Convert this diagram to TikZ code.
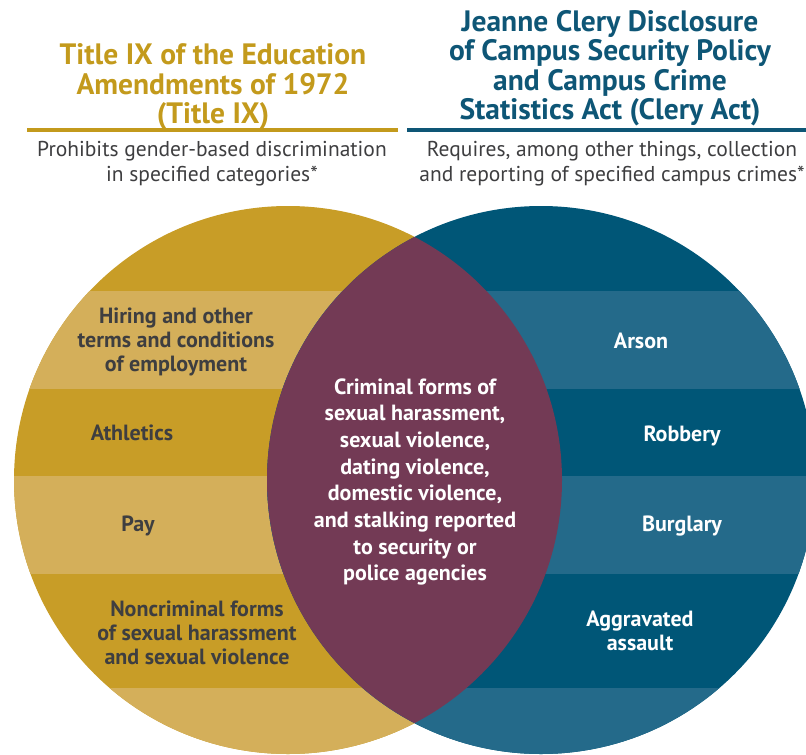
\documentclass[tikz,border=0pt]{standalone}
\usepackage{fontspec}
\setmainfont{PT Sans}
\usetikzlibrary{positioning}

\definecolor{ixdark}{HTML}{C89D27}
\definecolor{ixlight}{HTML}{D4AF5A}
\definecolor{ixtitle}{HTML}{C39A1C}
\definecolor{clerydark}{HTML}{005677}
\definecolor{clerylight}{HTML}{246A8A}
\definecolor{clerytitle}{HTML}{0E5676}
\definecolor{overlap}{HTML}{733A55}
\definecolor{labelgray}{HTML}{3E3E40}

\begin{document}
\begin{tikzpicture}[x=1pt, y=-1pt]
    \tikzstyle{heading} = [align=center, inner sep=0pt, font=\fontsize{29.5}{29.5}\selectfont\bfseries]
    \tikzstyle{subhead} = [align=center, inner sep=0pt, text=labelgray, font=\fontsize{21.5}{25}\selectfont]
    \tikzstyle{band} = [align=center, inner sep=0pt, font=\fontsize{22}{24}\selectfont\bfseries]
    \tikzstyle{ixband} = [band, text=labelgray]
    \tikzstyle{cleryband} = [band, text=white]
    \tikzstyle{rule} = [line width=3.5pt]

    \useasboundingbox (0,0) rectangle (806,755);

    \coordinate (ixc) at (288,480);
    \coordinate (clc) at (541,480);

    % Title IX circle with its stripes
    \begin{scope}
        \clip (ixc) circle[radius=274pt];
        \fill[ixdark] (0,0) rectangle (806,760);
        \foreach \top/\bot in {291/389, 476/574, 688/760}
            \fill[ixlight] (0,\top) rectangle (806,\bot);
    \end{scope}

    % Clery Act circle with its stripes
    \begin{scope}
        \clip (clc) circle[radius=274pt];
        \fill[clerydark] (0,0) rectangle (820,760);
        \foreach \top/\bot in {291/389, 476/574, 688/760}
            \fill[clerylight] (0,\top) rectangle (820,\bot);
    \end{scope}

    % overlap of the two
    \begin{scope}
        \clip (ixc) circle[radius=274pt];
        \fill[overlap] (clc) circle[radius=274pt];
    \end{scope}

    % headings
    \node[heading, text=ixtitle] (ixhead) at (213,87) {Title IX of the Education\\Amendments of 1972\\(Title IX)};
    \node[heading, text=clerytitle] (cleryhead) at (610,68) {Jeanne Clery Disclosure\\of Campus Security Policy\\and Campus Crime\\Statistics Act (Clery Act)};

    \coordinate (ixruleL) at (27,130);
    \coordinate (ixruleR) at (398,130);
    \coordinate (cleryruleL) at (407,130);
    \coordinate (cleryruleR) at (806,130);
    \draw[rule, ixtitle] (ixruleL) -- (ixruleR);
    \draw[rule, clerytitle] (cleryruleL) -- (cleryruleR);

    \node[subhead] (ixsub) at (212,164) {Prohibits gender-based discrimination\\in specified categories*};
    \node[subhead] (clerysub) at (612,164) {Requires, among other things, collection\\and reporting of specified campus crimes*};

    % Title IX categories
    \node[ixband] (hiring) at (176,342) {Hiring and other\\terms and conditions\\of employment};
    \node[ixband] (athletics) at (132,433) {Athletics};
    \node[ixband] (pay) at (138,526) {Pay};
    \node[ixband] (noncrim) at (197,633) {Noncriminal forms\\of sexual harassment\\and sexual violence};

    % Clery Act crimes
    \node[cleryband] (arson) at (641,341) {Arson};
    \node[cleryband] (robbery) at (682,436) {Robbery};
    \node[cleryband] (burglary) at (682,526) {Burglary};
    \node[cleryband] (assault) at (640,631) {Aggravated\\assault};

    % shared ground
    \node[cleryband, font=\fontsize{22}{26.7}\selectfont\bfseries] (criminal) at (415,482) {Criminal forms of\\sexual harassment,\\sexual violence,\\dating violence,\\domestic violence,\\and stalking reported\\to security or\\police agencies};
\end{tikzpicture}
\end{document}
